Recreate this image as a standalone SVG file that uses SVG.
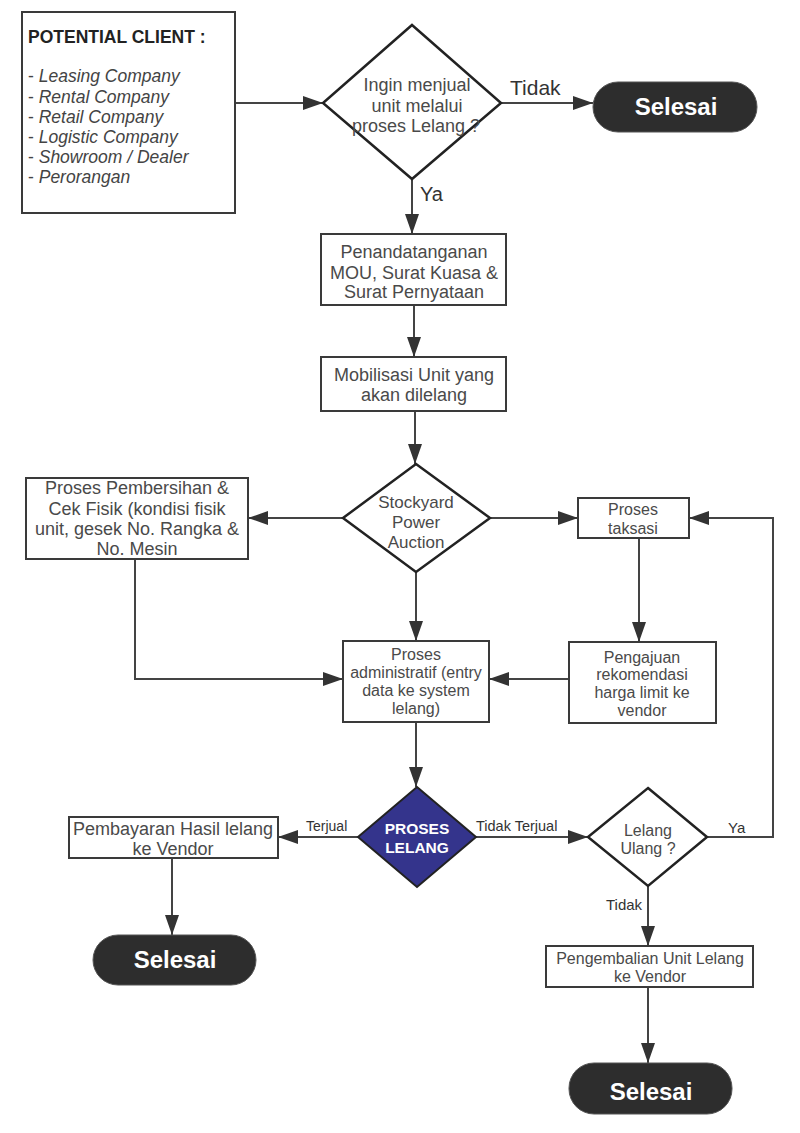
<svg xmlns="http://www.w3.org/2000/svg" width="800" height="1133" viewBox="0 0 800 1133">
<defs>
<style>
.box{fill:#fff;stroke:#3a3a3a;stroke-width:2}
.dia{fill:#fff;stroke:#222;stroke-width:2.5}
.term{fill:#2d2d2d;stroke:#555;stroke-width:1}
.t{font-family:"Liberation Sans",Arial,sans-serif;fill:#4a4a4a;text-anchor:middle}
.s18{font-size:18px}
.s16{font-size:16px}
.s17{font-size:17px}
.term-t{font-family:"Liberation Sans",Arial,sans-serif;font-size:24px;font-weight:bold;fill:#fff;text-anchor:middle}
.lbl{font-family:"Liberation Sans",Arial,sans-serif;fill:#333}
.conn{fill:none;stroke:#444;stroke-width:2;marker-end:url(#ah)}
</style>
<marker id="ah" markerUnits="userSpaceOnUse" markerWidth="20" markerHeight="14" refX="20" refY="7" orient="auto">
<path d="M0,0 L20,7 L0,14 z" fill="#333"/>
</marker>
</defs>
<rect width="800" height="1133" fill="#fff"/>

<g id="connectors">
<path class="conn" d="M218,103 H323"/>
<path class="conn" d="M501,103 H593"/>
<path class="conn" d="M412,179 V234"/>
<path class="conn" d="M414,305 V357"/>
<path class="conn" d="M415,411 V464"/>
<path class="conn" d="M343,518 H248"/>
<path class="conn" d="M490,518 H578"/>
<path class="conn" d="M416,572 V641"/>
<path class="conn" d="M135,559 V679 H343"/>
<path class="conn" d="M639,538 V642"/>
<path class="conn" d="M569,679 H489"/>
<path class="conn" d="M416,722 V787"/>
<path class="conn" d="M358,837 H278"/>
<path class="conn" d="M172,858 V935"/>
<path class="conn" d="M476,837 H588"/>
<path class="conn" d="M707,837 H773 V518 H689"/>
<path class="conn" d="M648,886 V946"/>
<path class="conn" d="M648,987 V1063"/>
<text class="lbl" x="510" y="95" font-size="21">Tidak</text>
<text class="lbl" x="420" y="201" font-size="20">Ya</text>
<text class="lbl" x="306" y="831" font-size="14">Terjual</text>
<text class="lbl" x="476" y="831" font-size="14.5">Tidak Terjual</text>
<text class="lbl" x="728" y="833" font-size="15">Ya</text>
<text class="lbl" x="606" y="910" font-size="15">Tidak</text>
</g>

<g id="client">
<rect class="box" x="22" y="12" width="213" height="201"/>
<text x="28" y="43" font-family="Liberation Sans,Arial,sans-serif" font-size="17.5" font-weight="bold" fill="#222">POTENTIAL CLIENT :</text>
<g font-family="Liberation Sans,Arial,sans-serif" font-size="17.5" fill="#444">
<text x="28" y="82">- <tspan font-style="italic">Leasing Company</tspan></text>
<text x="28" y="103">- <tspan font-style="italic">Rental Company</tspan></text>
<text x="28" y="123">- <tspan font-style="italic">Retail Company</tspan></text>
<text x="28" y="143">- <tspan font-style="italic">Logistic Company</tspan></text>
<text x="28" y="163">- <tspan font-style="italic">Showroom / Dealer</tspan></text>
<text x="28" y="183">- <tspan font-style="italic">Perorangan</tspan></text>
</g>
</g>

<g id="d-ingin">
<polygon class="dia" points="412,25 501,103 412,179 323,103"/>
<text class="t s18" x="417" y="91">Ingin menjual</text>
<text class="t s18" x="417" y="112">unit melalui</text>
<text class="t s18" x="416" y="132">proses Lelang ?</text>
</g>

<g id="selesai-1">
<rect class="term" x="593" y="82" width="164" height="50" rx="25"/>
<text class="term-t" x="676" y="115">Selesai</text>
</g>

<g id="penandatanganan">
<rect class="box" x="321" y="234" width="185" height="71"/>
<text class="t s18" x="414" y="258">Penandatanganan</text>
<text class="t s18" x="414" y="279">MOU, Surat Kuasa &amp;</text>
<text class="t s18" x="414" y="298">Surat Pernyataan</text>
</g>

<g id="mobilisasi">
<rect class="box" x="321" y="357" width="185" height="54"/>
<text class="t s18" x="414" y="381">Mobilisasi Unit yang</text>
<text class="t s18" x="414" y="401">akan dilelang</text>
</g>

<g id="d-stockyard">
<polygon class="dia" points="416,464 490,518 416,572 343,518"/>
<text class="t s17" x="416" y="508">Stockyard</text>
<text class="t s17" x="416" y="528">Power</text>
<text class="t s17" x="416" y="548">Auction</text>
</g>

<g id="pembersihan">
<rect class="box" x="26" y="478" width="222" height="81"/>
<text class="t s18" x="137" y="494">Proses Pembersihan &amp;</text>
<text class="t s18" x="137" y="515">Cek Fisik (kondisi fisik</text>
<text class="t s18" x="137" y="535">unit, gesek No. Rangka &amp;</text>
<text class="t s18" x="137" y="555">No. Mesin</text>
</g>

<g id="taksasi">
<rect class="box" x="578" y="498" width="111" height="40"/>
<text class="t s16" x="633" y="515">Proses</text>
<text class="t s16" x="633" y="534">taksasi</text>
</g>

<g id="administratif">
<rect class="box" x="343" y="641" width="146" height="81"/>
<text class="t s16" x="416" y="660">Proses</text>
<text class="t s16" x="416" y="678">administratif (entry</text>
<text class="t s16" x="416" y="696">data ke system</text>
<text class="t s16" x="416" y="714">lelang)</text>
</g>

<g id="pengajuan">
<rect class="box" x="569" y="642" width="147" height="81"/>
<text class="t s16" x="642" y="663">Pengajuan</text>
<text class="t s16" x="642" y="680">rekomendasi</text>
<text class="t s16" x="642" y="698">harga limit ke</text>
<text class="t s16" x="642" y="716">vendor</text>
</g>

<g id="d-proses-lelang">
<polygon points="417,787 476,837 417,887 358,837" fill="#34348c" stroke="#222" stroke-width="2"/>
<text x="417" y="834" font-family="Liberation Sans,Arial,sans-serif" font-size="15.5" font-weight="bold" fill="#fff" text-anchor="middle">PROSES</text>
<text x="417" y="853" font-family="Liberation Sans,Arial,sans-serif" font-size="15.5" font-weight="bold" fill="#fff" text-anchor="middle">LELANG</text>
</g>

<g id="pembayaran">
<rect class="box" x="69" y="817" width="209" height="41"/>
<text class="t s18" x="173" y="835">Pembayaran Hasil lelang</text>
<text class="t s18" x="173" y="855">ke Vendor</text>
</g>

<g id="selesai-2">
<rect class="term" x="93" y="935" width="163" height="50" rx="25"/>
<text class="term-t" x="175" y="968">Selesai</text>
</g>

<g id="d-lelang-ulang">
<polygon class="dia" points="648,788 707,837 648,886 588,837"/>
<text class="t s16" x="648" y="836">Lelang</text>
<text class="t s16" x="648" y="854">Ulang ?</text>
</g>

<g id="pengembalian">
<rect class="box" x="546" y="946" width="207" height="41"/>
<text class="t s16" x="650" y="964">Pengembalian Unit Lelang</text>
<text class="t s16" x="650" y="982">ke Vendor</text>
</g>

<g id="selesai-3">
<rect class="term" x="569" y="1063" width="163" height="51" rx="25"/>
<text class="term-t" x="651" y="1100">Selesai</text>
</g>
</svg>
